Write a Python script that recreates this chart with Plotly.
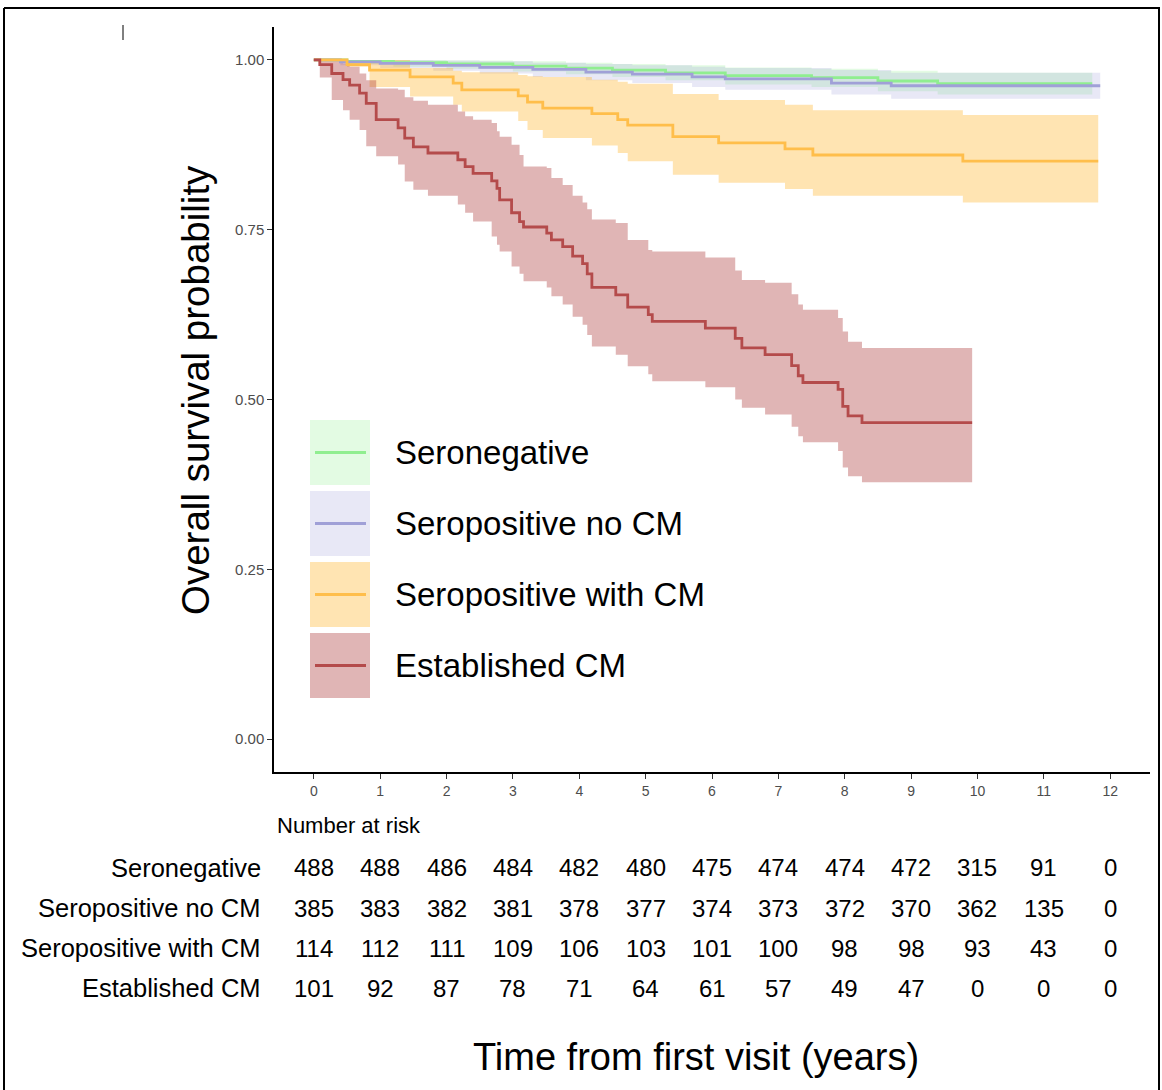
import plotly.graph_objects as go

# ---------------- data ----------------
GROUPS = ["Seronegative", "Seropositive no CM", "Seropositive with CM", "Established CM"]

SN_T = [0, 0.5, 1.2, 2.0, 3.0, 3.8, 4.5, 5.3, 6.2, 7.5, 8.5, 9.4, 11.73]
SN_S = [1, 0.998, 0.996, 0.994, 0.991, 0.988, 0.985, 0.981, 0.977, 0.974, 0.969, 0.965, 0.965]
SN_U = [1, 1, 1, 0.999, 0.998, 0.996, 0.994, 0.992, 0.989, 0.987, 0.984, 0.981, 0.981]
SN_L = [1, 0.994, 0.99, 0.987, 0.983, 0.979, 0.975, 0.97, 0.964, 0.96, 0.954, 0.949, 0.949]

SP_T = [0, 0.4, 1.0, 1.8, 2.5, 3.3, 4.1, 4.8, 5.7, 6.2, 7.8, 8.7, 11.85]
SP_S = [1, 0.997, 0.995, 0.992, 0.989, 0.986, 0.982, 0.979, 0.975, 0.972, 0.966, 0.962, 0.962]
SP_U = [1, 1, 1, 0.999, 0.998, 0.996, 0.994, 0.992, 0.99, 0.988, 0.985, 0.981, 0.981]
SP_L = [1, 0.992, 0.988, 0.984, 0.98, 0.975, 0.97, 0.966, 0.96, 0.956, 0.949, 0.943, 0.943]

SWC_T = [0, 0.5, 0.84, 1.45, 2.1, 2.23, 3.08, 3.22, 3.45, 4.19, 4.58, 4.73, 5.41, 6.1, 7.1, 7.52, 9.78, 11.82]
SWC_S = [1, 0.993, 0.985, 0.975, 0.966, 0.956, 0.947, 0.938, 0.929, 0.921, 0.912, 0.904, 0.887, 0.878, 0.869, 0.860, 0.851, 0.851]
SWC_U = [1, 1, 1, 0.988, 0.984, 0.982, 0.978, 0.976, 0.975, 0.971, 0.968, 0.965, 0.95, 0.941, 0.934, 0.926, 0.919, 0.919]
SWC_L = [1, 0.99, 0.96, 0.946, 0.934, 0.924, 0.91, 0.897, 0.885, 0.874, 0.863, 0.851, 0.831, 0.819, 0.81, 0.80, 0.79, 0.79]

EST_T = [0, 0.09, 0.27, 0.44, 0.54, 0.69, 0.79, 0.94, 1.27, 1.37, 1.5, 1.72, 2.17, 2.28, 2.4, 2.68,
         2.76, 2.8, 2.98, 3.1, 3.16, 3.51, 3.58, 3.75, 3.9, 4.05, 4.12, 4.19, 4.55, 4.73, 5.04, 5.10,
         5.9, 6.35, 6.45, 6.8, 7.2, 7.3, 7.37, 7.9, 7.97, 8.05, 8.26, 9.92]
EST_S = [1, 0.993, 0.980, 0.971, 0.963, 0.951, 0.936, 0.912, 0.900, 0.885, 0.872, 0.863, 0.853, 0.843,
         0.833, 0.822, 0.811, 0.794, 0.775, 0.762, 0.754, 0.745, 0.735, 0.725, 0.711, 0.70, 0.685, 0.665,
         0.654, 0.636, 0.625, 0.615, 0.605, 0.59, 0.576, 0.566, 0.55, 0.535, 0.525, 0.515, 0.49, 0.476,
         0.466, 0.466]
EST_U = [1, 1, 1, 0.995, 0.99, 0.98, 0.97, 0.958, 0.956, 0.945, 0.94, 0.934, 0.924, 0.917, 0.912, 0.907,
         0.895, 0.887, 0.875, 0.86, 0.843, 0.841, 0.826, 0.816, 0.80, 0.79, 0.78, 0.765, 0.76, 0.735, 0.72,
         0.718, 0.709, 0.69, 0.676, 0.672, 0.655, 0.64, 0.632, 0.62, 0.60, 0.585, 0.576, 0.576]
EST_L = [1, 0.974, 0.941, 0.926, 0.912, 0.897, 0.873, 0.858, 0.846, 0.821, 0.809, 0.80, 0.787, 0.775,
         0.762, 0.74, 0.728, 0.718, 0.696, 0.685, 0.674, 0.665, 0.652, 0.64, 0.622, 0.61, 0.595, 0.578,
         0.566, 0.549, 0.537, 0.527, 0.518, 0.50, 0.488, 0.478, 0.46, 0.446, 0.437, 0.424, 0.40, 0.387,
         0.378, 0.378]

RISK_TIMES = list(range(0, 13))
RISK_SN = [488, 488, 486, 484, 482, 480, 475, 474, 474, 472, 315, 91, 0]
RISK_SP = [385, 383, 382, 381, 378, 377, 374, 373, 372, 370, 362, 135, 0]
RISK_SWC = [114, 112, 111, 109, 106, 103, 101, 100, 98, 98, 93, 43, 0]
RISK_EST = [101, 92, 87, 78, 71, 64, 61, 57, 49, 47, 0, 0, 0]

X_TICKS = list(range(0, 13))
Y_TICKS = [0, 0.25, 0.5, 0.75, 1.0]
Y_TICK_LABELS = ["0.00", "0.25", "0.50", "0.75", "1.00"]

# ---------------- styles ----------------
LINE_COLORS = ["rgb(144,238,144)", "rgb(160,160,215)", "rgb(255,190,75)", "rgb(180,75,75)"]
FILL_COLORS = ["rgba(144,238,144,0.25)", "rgba(150,150,215,0.22)", "rgba(255,165,0,0.30)", "rgba(165,42,42,0.35)"]

series = [
    (SN_T, SN_S, SN_U, SN_L),
    (SP_T, SP_S, SP_U, SP_L),
    (SWC_T, SWC_S, SWC_U, SWC_L),
    (EST_T, EST_S, EST_U, EST_L),
]

W, H = 1162, 1090
PL, PR, PT, PB = 274, 1150, 27, 772  # plot area in pixels


def px_x(px):
    return (px - PL) / (PR - PL)


def px_y(py):
    return (PB - py) / (PB - PT)


fig = go.Figure()

# bands
for i, (t, s, u, l) in enumerate(series):
    fig.add_trace(go.Scatter(x=t, y=l, mode="lines", line=dict(width=0, shape="hv"),
                             showlegend=False, hoverinfo="skip"))
    fig.add_trace(go.Scatter(x=t, y=u, mode="lines", line=dict(width=0, shape="hv"),
                             fill="tonexty", fillcolor=FILL_COLORS[i], showlegend=False,
                             hoverinfo="skip"))
# lines
for i, (t, s, u, l) in enumerate(series):
    fig.add_trace(go.Scatter(x=t, y=s, mode="lines", name=GROUPS[i],
                             line=dict(color=LINE_COLORS[i], width=2.8, shape="hv"),
                             showlegend=False))

shapes = []
annotations = []

# manual legend
box_tops = [420, 491, 562, 633]
for i, g in enumerate(GROUPS):
    top = box_tops[i]
    bot = top + 65
    shapes.append(dict(type="rect", xref="paper", yref="paper",
                       x0=px_x(310), x1=px_x(370), y0=px_y(bot), y1=px_y(top),
                       fillcolor=FILL_COLORS[i], line=dict(width=0)))
    cy = (top + bot) / 2
    shapes.append(dict(type="line", xref="paper", yref="paper",
                       x0=px_x(315), x1=px_x(366), y0=px_y(cy), y1=px_y(cy),
                       line=dict(color=LINE_COLORS[i], width=2.8)))
    annotations.append(dict(text=g, xref="paper", yref="paper", x=px_x(393), y=px_y(cy),
                            xanchor="left", yanchor="middle", showarrow=False,
                            font=dict(size=33, color="black")))

# number at risk
annotations.append(dict(text="Number at risk", xref="paper", yref="paper", x=px_x(275), y=px_y(825),
                        xanchor="left", yanchor="middle", showarrow=False,
                        font=dict(size=22, color="black")))
risk_rows = [RISK_SN, RISK_SP, RISK_SWC, RISK_EST]
row_y = [868, 908, 948, 988]
for r, (vals, yy) in enumerate(zip(risk_rows, row_y)):
    annotations.append(dict(text=GROUPS[r], xref="paper", yref="paper", x=px_x(263), y=px_y(yy),
                            xanchor="right", yanchor="middle", showarrow=False,
                            font=dict(size=25.5, color="black")))
    for t, v in zip(RISK_TIMES, vals):
        annotations.append(dict(text=str(v), xref="x", yref="paper", x=t, y=px_y(yy),
                                xanchor="center", yanchor="middle", showarrow=False,
                                font=dict(size=24, color="black")))

# axis titles
annotations.append(dict(text="Time from first visit (years)", xref="paper", yref="paper",
                        x=px_x(696), y=px_y(1057), xanchor="center", yanchor="middle",
                        showarrow=False, font=dict(size=38, color="black")))
annotations.append(dict(text="Overall survival probability", xref="paper", yref="paper",
                        x=px_x(195), y=px_y(390), xanchor="center", yanchor="middle",
                        textangle=-90, showarrow=False, font=dict(size=38.5, color="black")))

# outer frame
shapes.append(dict(type="line", xref="paper", yref="paper", x0=px_x(4), x1=px_x(1160),
                   y0=px_y(8), y1=px_y(8), line=dict(color="black", width=2)))
shapes.append(dict(type="line", xref="paper", yref="paper", x0=px_x(4), x1=px_x(4),
                   y0=px_y(8), y1=px_y(1095), line=dict(color="black", width=2)))
shapes.append(dict(type="line", xref="paper", yref="paper", x0=px_x(1159), x1=px_x(1159),
                   y0=px_y(8), y1=px_y(1095), line=dict(color="black", width=2)))
shapes.append(dict(type="line", xref="paper", yref="paper", x0=px_x(123), x1=px_x(123),
                   y0=px_y(25), y1=px_y(40), line=dict(color="black", width=1)))

fig.update_layout(
    width=W, height=H,
    margin=dict(l=PL, r=W - PR, t=PT, b=H - PB, autoexpand=False),
    plot_bgcolor="white", paper_bgcolor="white",
    font=dict(family="Liberation Sans, Arial, sans-serif", color="black"),
    showlegend=False,
    shapes=shapes, annotations=annotations,
    xaxis=dict(range=[-0.6, 12.6], tickvals=X_TICKS, ticktext=[str(v) for v in X_TICKS],
               showgrid=False, zeroline=False, showline=True, linecolor="black", linewidth=1.5,
               ticks="outside", ticklen=5, tickcolor="#333", tickwidth=1,
               tickfont=dict(size=14, color="#4d4d4d")),
    yaxis=dict(range=[-0.0485, 1.0485], tickvals=Y_TICKS, ticktext=Y_TICK_LABELS,
               showgrid=False, zeroline=False, showline=True, linecolor="black", linewidth=1.5,
               ticks="outside", ticklen=5, tickcolor="#333", tickwidth=1,
               tickfont=dict(size=15, color="#4d4d4d")),
)

fig.write_html("out.html", config={"displayModeBar": False},
               post_script="document.body.style.margin='0';document.body.style.overflow='hidden';")
